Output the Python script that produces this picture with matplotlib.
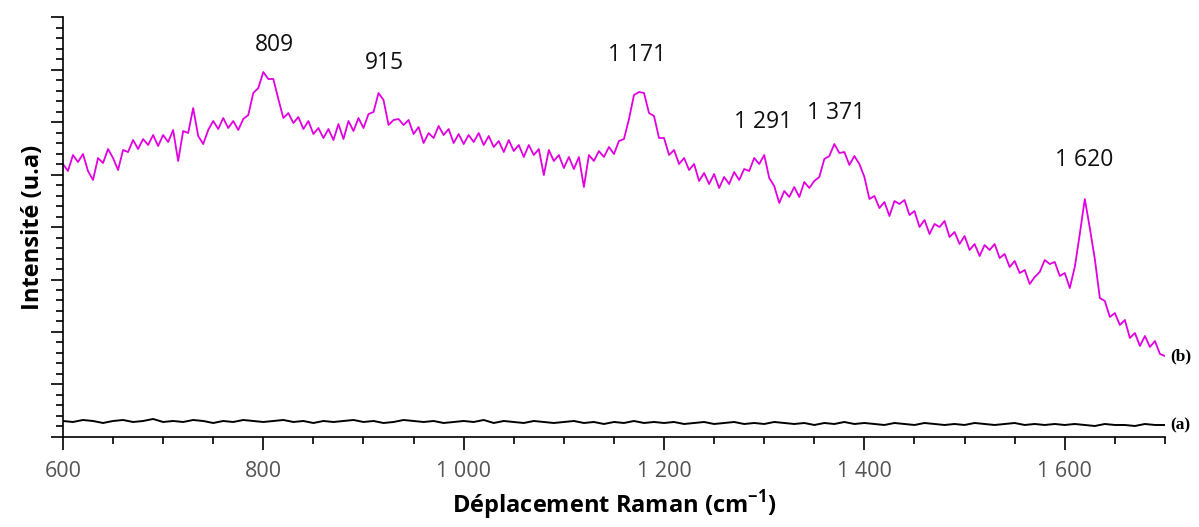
import numpy as np
import matplotlib
matplotlib.use("Agg")
import matplotlib.pyplot as plt
from matplotlib.ticker import MultipleLocator, FuncFormatter

# Raman shift grid for spectrum (b), cm^-1
shift_b = list(range(600, 1701, 5))
# Spectrum (b): intensity in arbitrary units
intensity_b = [
    273, 266, 282, 275, 283, 266, 257, 279, 274, 288,   # 600-645
    279, 267, 287, 285, 297, 288, 298, 292, 302, 291,   # 650-695
    302, 295, 307, 276, 306, 304, 329, 301, 293, 307,   # 700-745
    316, 308, 319, 309, 316, 307, 318, 322, 344, 349,   # 750-795
    365, 358, 358, 338, 319, 324, 314, 320, 308, 316,   # 800-845
    303, 309, 299, 308, 297, 313, 298, 316, 306, 319,   # 850-895
    309, 323, 325, 344, 337, 312, 317, 318, 312, 317,   # 900-945
    303, 310, 294, 304, 299, 311, 302, 308, 294, 303,   # 950-995
    293, 302, 295, 304, 292, 301, 290, 296, 285, 297,   # 1000-1045
    286, 292, 280, 292, 282, 288, 262, 287, 276, 282,   # 1050-1095
    269, 280, 268, 280, 250, 282, 276, 286, 280, 290,   # 1100-1145
    283, 296, 298, 318, 342, 345, 344, 324, 321, 299,   # 1150-1195
    299, 282, 287, 273, 279, 267, 273, 256, 264, 253,   # 1200-1245
    263, 249, 260, 253, 265, 257, 268, 266, 279, 273,   # 1250-1295
    282, 259, 251, 234, 246, 240, 250, 240, 255, 249,   # 1300-1345
    256, 260, 278, 281, 293, 284, 285, 272, 281, 273,   # 1350-1395
    260, 238, 241, 229, 235, 221, 236, 233, 237, 222,   # 1400-1445
    226, 210, 217, 203, 213, 210, 216, 200, 205, 193,   # 1450-1495
    201, 187, 193, 181, 192, 187, 193, 179, 183, 170,   # 1500-1545
    176, 164, 167, 153, 160, 165, 177, 173, 175, 161,   # 1550-1595
    164, 149, 170, 203, 238, 209, 178, 139, 136, 120,   # 1600-1645
    124, 112, 117, 99, 104, 91, 101, 90, 96, 83,        # 1650-1695
    81,                                                  # 1700
]

# Raman shift grid for spectrum (a), cm^-1
shift_a = list(range(600, 1701, 10))
# Spectrum (a): flat baseline, arbitrary units
intensity_a = [
    16, 15, 17, 16, 14, 16, 17, 15, 16, 18, 15, 16, 15, 17, 16, 14, 16, 15, 17, 16,
    15, 16, 17, 15, 16, 14, 16, 15, 16, 17,
    15, 16, 14, 15, 17, 16, 15, 16, 14, 15,
    16, 15, 17, 14, 16, 15, 14, 16, 15, 14,
    15, 16, 14, 15, 13, 15, 14, 16, 14, 15,
    14, 15, 13, 14, 15, 13, 14, 15, 13, 14,
    13, 15, 14, 13, 14, 12, 14, 13, 15, 13,
    14, 13, 12, 14, 13, 12, 14, 13, 12, 13,
    12, 14, 13, 12, 13, 14, 12, 13, 12, 13,
    12, 13, 12, 11, 13, 12, 12, 11, 13, 12,
    12,
]

# Peak annotations: label text, x position, y position
peak_labels = ["809", "915", "1 171", "1 291", "1 371", "1 620"]
peak_x = [811, 921, 1173, 1299, 1372, 1619]
peak_y = [392, 374, 382, 315, 324, 277]

plt.rcParams["font.family"] = ["Open Sans", "DejaVu Sans"]

fig = plt.figure(figsize=(11.99, 5.27), dpi=100)
ax = fig.add_axes([0.0525, 0.1708, 0.9191, 0.7969])

ax.plot(shift_b, intensity_b, color="#e000e0", lw=1.3)
ax.plot(shift_a, intensity_a, color="black", lw=1.4)

for txt, x, y in zip(peak_labels, peak_x, peak_y):
    ax.text(x, y, txt, ha="center", va="center", fontsize=16.5, color="#111111")

ax.text(1705, intensity_b[-1], "(b)", ha="left", va="center",
        fontsize=12.5, fontweight="bold", family="Liberation Serif")
ax.text(1705, intensity_a[-1], "(a)", ha="left", va="center",
        fontsize=12.5, fontweight="bold", family="Liberation Serif")

ax.set_xlim(600, 1700)
ax.set_ylim(0, 420)

ax.spines["top"].set_visible(False)
ax.spines["right"].set_visible(False)
ax.spines["left"].set_linewidth(1.2)
ax.spines["bottom"].set_linewidth(1.2)

ax.xaxis.set_major_locator(MultipleLocator(200))
ax.xaxis.set_minor_locator(MultipleLocator(50))
ax.yaxis.set_major_locator(MultipleLocator(52.5))
ax.yaxis.set_minor_locator(MultipleLocator(10.5))


def thousands(v, pos):
    return f"{int(v):,}".replace(",", " ")


ax.xaxis.set_major_formatter(FuncFormatter(thousands))
ax.tick_params(axis="x", which="major", length=9, width=1.2, labelsize=15.5,
               labelcolor="#555555", pad=8)
ax.tick_params(axis="x", which="minor", length=5, width=1.2)
ax.tick_params(axis="y", which="major", length=9, width=1.2, labelleft=False)
ax.tick_params(axis="y", which="minor", length=5, width=1.2)

ax.set_xlabel("Déplacement Raman (cm$^{\\mathregular{-1}}$)", fontsize=17,
              fontweight="bold", labelpad=5)
ax.set_ylabel("Intensité (u.a)", fontsize=17, fontweight="bold", labelpad=4)

fig.savefig("out.png", dpi=100)
